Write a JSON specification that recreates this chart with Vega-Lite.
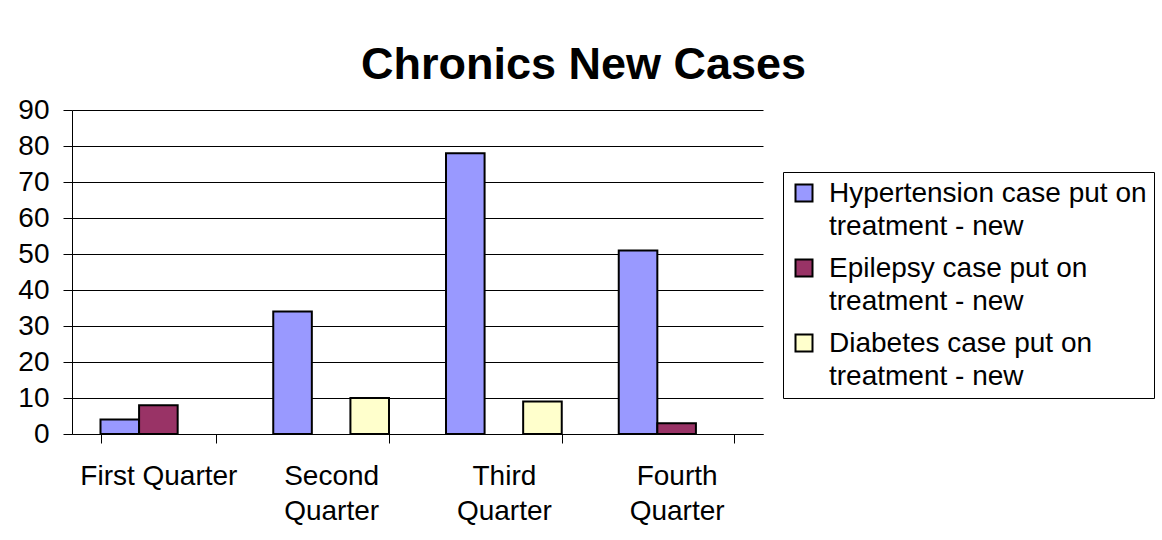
{
  "$schema": "https://vega.github.io/schema/vega-lite/v6.json",
  "width": 691,
  "height": 324,
  "autosize": {"type": "none"},
  "padding": {"left": 72, "top": 110, "right": 399, "bottom": 106},
  "background": "white",
  "title": {
    "text": "Chronics New Cases",
    "fontSize": 45,
    "font": "Liberation Sans",
    "fontWeight": "bold",
    "color": "black",
    "anchor": "middle",
    "baseline": "alphabetic",
    "offset": -28,
    "dx": 166
  },
  "data": {
    "values": [
      {"quarter": "First Quarter", "series": "Hypertension case put on treatment - new", "value": 4},
      {"quarter": "First Quarter", "series": "Epilepsy case put on treatment - new", "value": 8},
      {"quarter": "Second Quarter", "series": "Hypertension case put on treatment - new", "value": 34},
      {"quarter": "Second Quarter", "series": "Diabetes case put on treatment - new", "value": 10},
      {"quarter": "Third Quarter", "series": "Hypertension case put on treatment - new", "value": 78},
      {"quarter": "Third Quarter", "series": "Diabetes case put on treatment - new", "value": 9},
      {"quarter": "Fourth Quarter", "series": "Hypertension case put on treatment - new", "value": 51},
      {"quarter": "Fourth Quarter", "series": "Epilepsy case put on treatment - new", "value": 3}
    ]
  },
  "mark": {"type": "bar", "stroke": "black", "strokeWidth": 2},
  "encoding": {
    "x": {
      "field": "quarter",
      "type": "nominal",
      "sort": ["First Quarter", "Second Quarter", "Third Quarter", "Fourth Quarter"],
      "scale": {"paddingInner": 0.33, "paddingOuter": 0.165},
      "axis": {
        "title": null,
        "labelAngle": 0,
        "labelExpr": "datum.label == 'First Quarter' ? datum.label : split(datum.label, ' ')",
        "tickBand": "extent",
        "labelBaseline": "top",
        "labelPadding": 19,
        "labelLineHeight": 35,
        "tickSize": 9,
        "grid": false
      }
    },
    "xOffset": {
      "field": "series",
      "type": "nominal",
      "scale": {
        "domain": ["Hypertension case put on treatment - new", "Epilepsy case put on treatment - new", "Diabetes case put on treatment - new"],
        "paddingInner": 0,
        "paddingOuter": 0
      }
    },
    "y": {
      "field": "value",
      "type": "quantitative",
      "scale": {"domain": [0, 90], "nice": false},
      "axis": {
        "title": null,
        "values": [0, 10, 20, 30, 40, 50, 60, 70, 80, 90],
        "tickSize": 9,
        "labelPadding": 14,
        "grid": true
      }
    },
    "color": {
      "field": "series",
      "type": "nominal",
      "scale": {
        "domain": ["Hypertension case put on treatment - new", "Epilepsy case put on treatment - new", "Diabetes case put on treatment - new"],
        "range": ["#9999FF", "#993366", "#FFFFCC"]
      },
      "legend": {
        "title": null,
        "orient": "none",
        "legendX": 711,
        "legendY": 62,
        "labelExpr": "[replace(datum.label, ' treatment - new', ''), 'treatment - new']",
        "labelFontSize": 28,
        "labelFont": "Liberation Sans",
        "labelColor": "black",
        "labelLimit": 500,
        "labelOffset": 11,
        "labelBaseline": "alphabetic",
        "symbolType": "square",
        "symbolSize": 289,
        "symbolStrokeColor": "black",
        "symbolStrokeWidth": 2,
        "symbolOpacity": 1,
        "strokeColor": "black",
        "fillColor": "white",
        "padding": 7,
        "rowPadding": 13,
        "encode": {
          "labels": {"update": {"dy": {"value": 9}}}
        }
      }
    }
  },
  "config": {
    "view": {"stroke": null},
    "axis": {
      "domainColor": "black",
      "tickColor": "black",
      "gridColor": "black",
      "gridOpacity": 1,
      "labelColor": "black",
      "labelFont": "Liberation Sans",
      "labelFontSize": 28,
      "domainWidth": 1,
      "tickWidth": 1,
      "gridWidth": 1
    },
    "style": {"guide-label": {"lineHeight": 33}}
  }
}
